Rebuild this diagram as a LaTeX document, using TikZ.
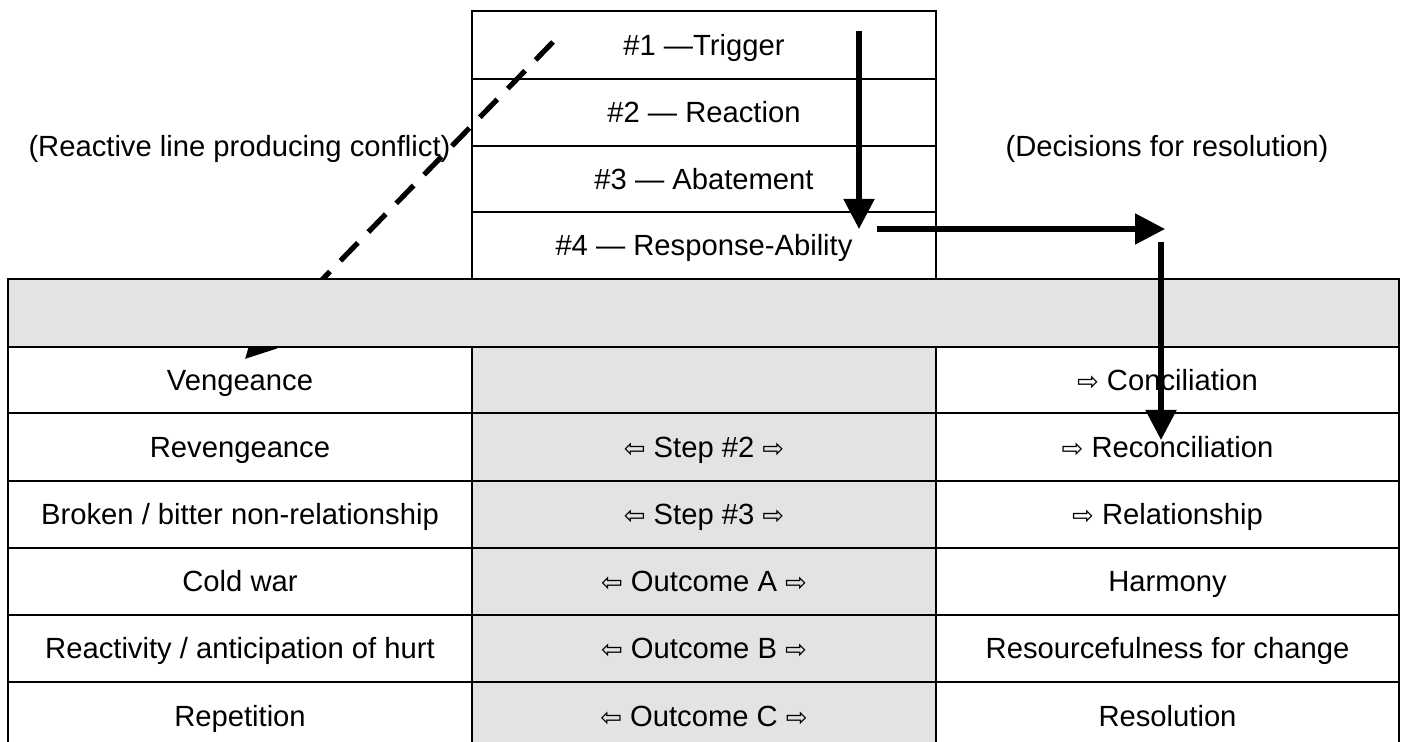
\documentclass[tikz,border=0pt]{standalone}
\usepackage{fontspec}
\setmainfont{Liberation Sans}
\newfontfamily\arrowfont{DejaVu Sans}
\usetikzlibrary{arrows.meta}
\definecolor{bandgray}{HTML}{E3E3E3}
\newcommand{\myla}{{\arrowfont\fontsize{13}{15}\selectfont ⇦}}
\newcommand{\myra}{{\arrowfont\fontsize{13}{15}\selectfont ⇨}}
\begin{document}
\begin{tikzpicture}[x=0.5pt,y=-0.5pt,
  txt/.style={font=\fontsize{14.6}{17}\selectfont, inner sep=0pt, text height=10.4pt, text depth=0pt, anchor=center},
  grid/.style={line width=1.1pt},
  bigarrow/.style={line width=2.6pt, -{Triangle[length=15pt,width=15pt]}},
  dasharrow/.style={line width=2.6pt, dash pattern=on 12.5pt off 7.5pt, -{Triangle[length=15pt,width=15pt]}}]
\useasboundingbox (0,0) rectangle (1401,742);
% dashed reactive arrow (drawn first: the band covers part of it)
\coordinate (d1) at (553,42);
\coordinate (d2) at (245,359);
\draw[dasharrow] (d1) -- (d2);
% gray fills
\fill[bandgray] (8,279) rectangle (1399,347);
\fill[bandgray] (472,347) rectangle (936,760);
% top table
\draw[grid] (472,279) -- (472,11) -- (936,11) -- (936,279);
\foreach \y in {79,146,212} \draw[grid] (472,\y) -- (936,\y);
% band and lower table
\draw[grid] (8,760) -- (8,279) -- (1399,279) -- (1399,760);
\foreach \y in {347,413,481,548,615,682} \draw[grid] (8,\y) -- (1399,\y);
\draw[grid] (472,347) -- (472,760);
\draw[grid] (936,347) -- (936,760);
% side labels
\node[txt] (lreact) at (239.5,146) {(Reactive line producing conflict)};
\node[txt] (ldec) at (1167,146) {(Decisions for resolution)};
% top table texts
\node[txt] (t1) at (704,45) {\#1 —Trigger};
\node[txt] (t2) at (704,112.5) {\#2 — Reaction};
\node[txt] (t3) at (704,179) {\#3 — Abatement};
\node[txt] (t4) at (704,245.5) {\#4 — Response-Ability};
% rows
\node[txt] (a1) at (240,380) {Vengeance};
\node[txt] (c1) at (1167.5,380) {\myra\ Conciliation};
\node[txt] (a2) at (240,447) {Revengeance};
\node[txt] (b2) at (704,447) {\myla\ Step \#2 \myra};
\node[txt] (c2) at (1167.5,447) {\myra\ Reconciliation};
\node[txt] (a3) at (240,514.5) {Broken / bitter non-relationship};
\node[txt] (b3) at (704,514.5) {\myla\ Step \#3 \myra};
\node[txt] (c3) at (1167.5,514.5) {\myra\ Relationship};
\node[txt] (a4) at (240,581.5) {Cold war};
\node[txt] (b4) at (704,581.5) {\myla\ Outcome A \myra};
\node[txt] (c4) at (1167.5,581.5) {Harmony};
\node[txt] (a5) at (240,648.5) {Reactivity / anticipation of hurt};
\node[txt] (b5) at (704,648.5) {\myla\ Outcome B \myra};
\node[txt] (c5) at (1167.5,648.5) {Resourcefulness for change};
\node[txt] (a6) at (240,716) {Repetition};
\node[txt] (b6) at (704,716) {\myla\ Outcome C \myra};
\node[txt] (c6) at (1167.5,716) {Resolution};
% solid arrows
\coordinate (v1s) at (859,31);
\coordinate (v1e) at (859,229);
\coordinate (h1s) at (877,229);
\coordinate (h1e) at (1165,229);
\coordinate (v2s) at (1161,242);
\coordinate (v2e) at (1161,440);
\draw[bigarrow] (v1s) -- (v1e);
\draw[bigarrow] (h1s) -- (h1e);
\draw[bigarrow] (v2s) -- (v2e);
\end{tikzpicture}
\end{document}
